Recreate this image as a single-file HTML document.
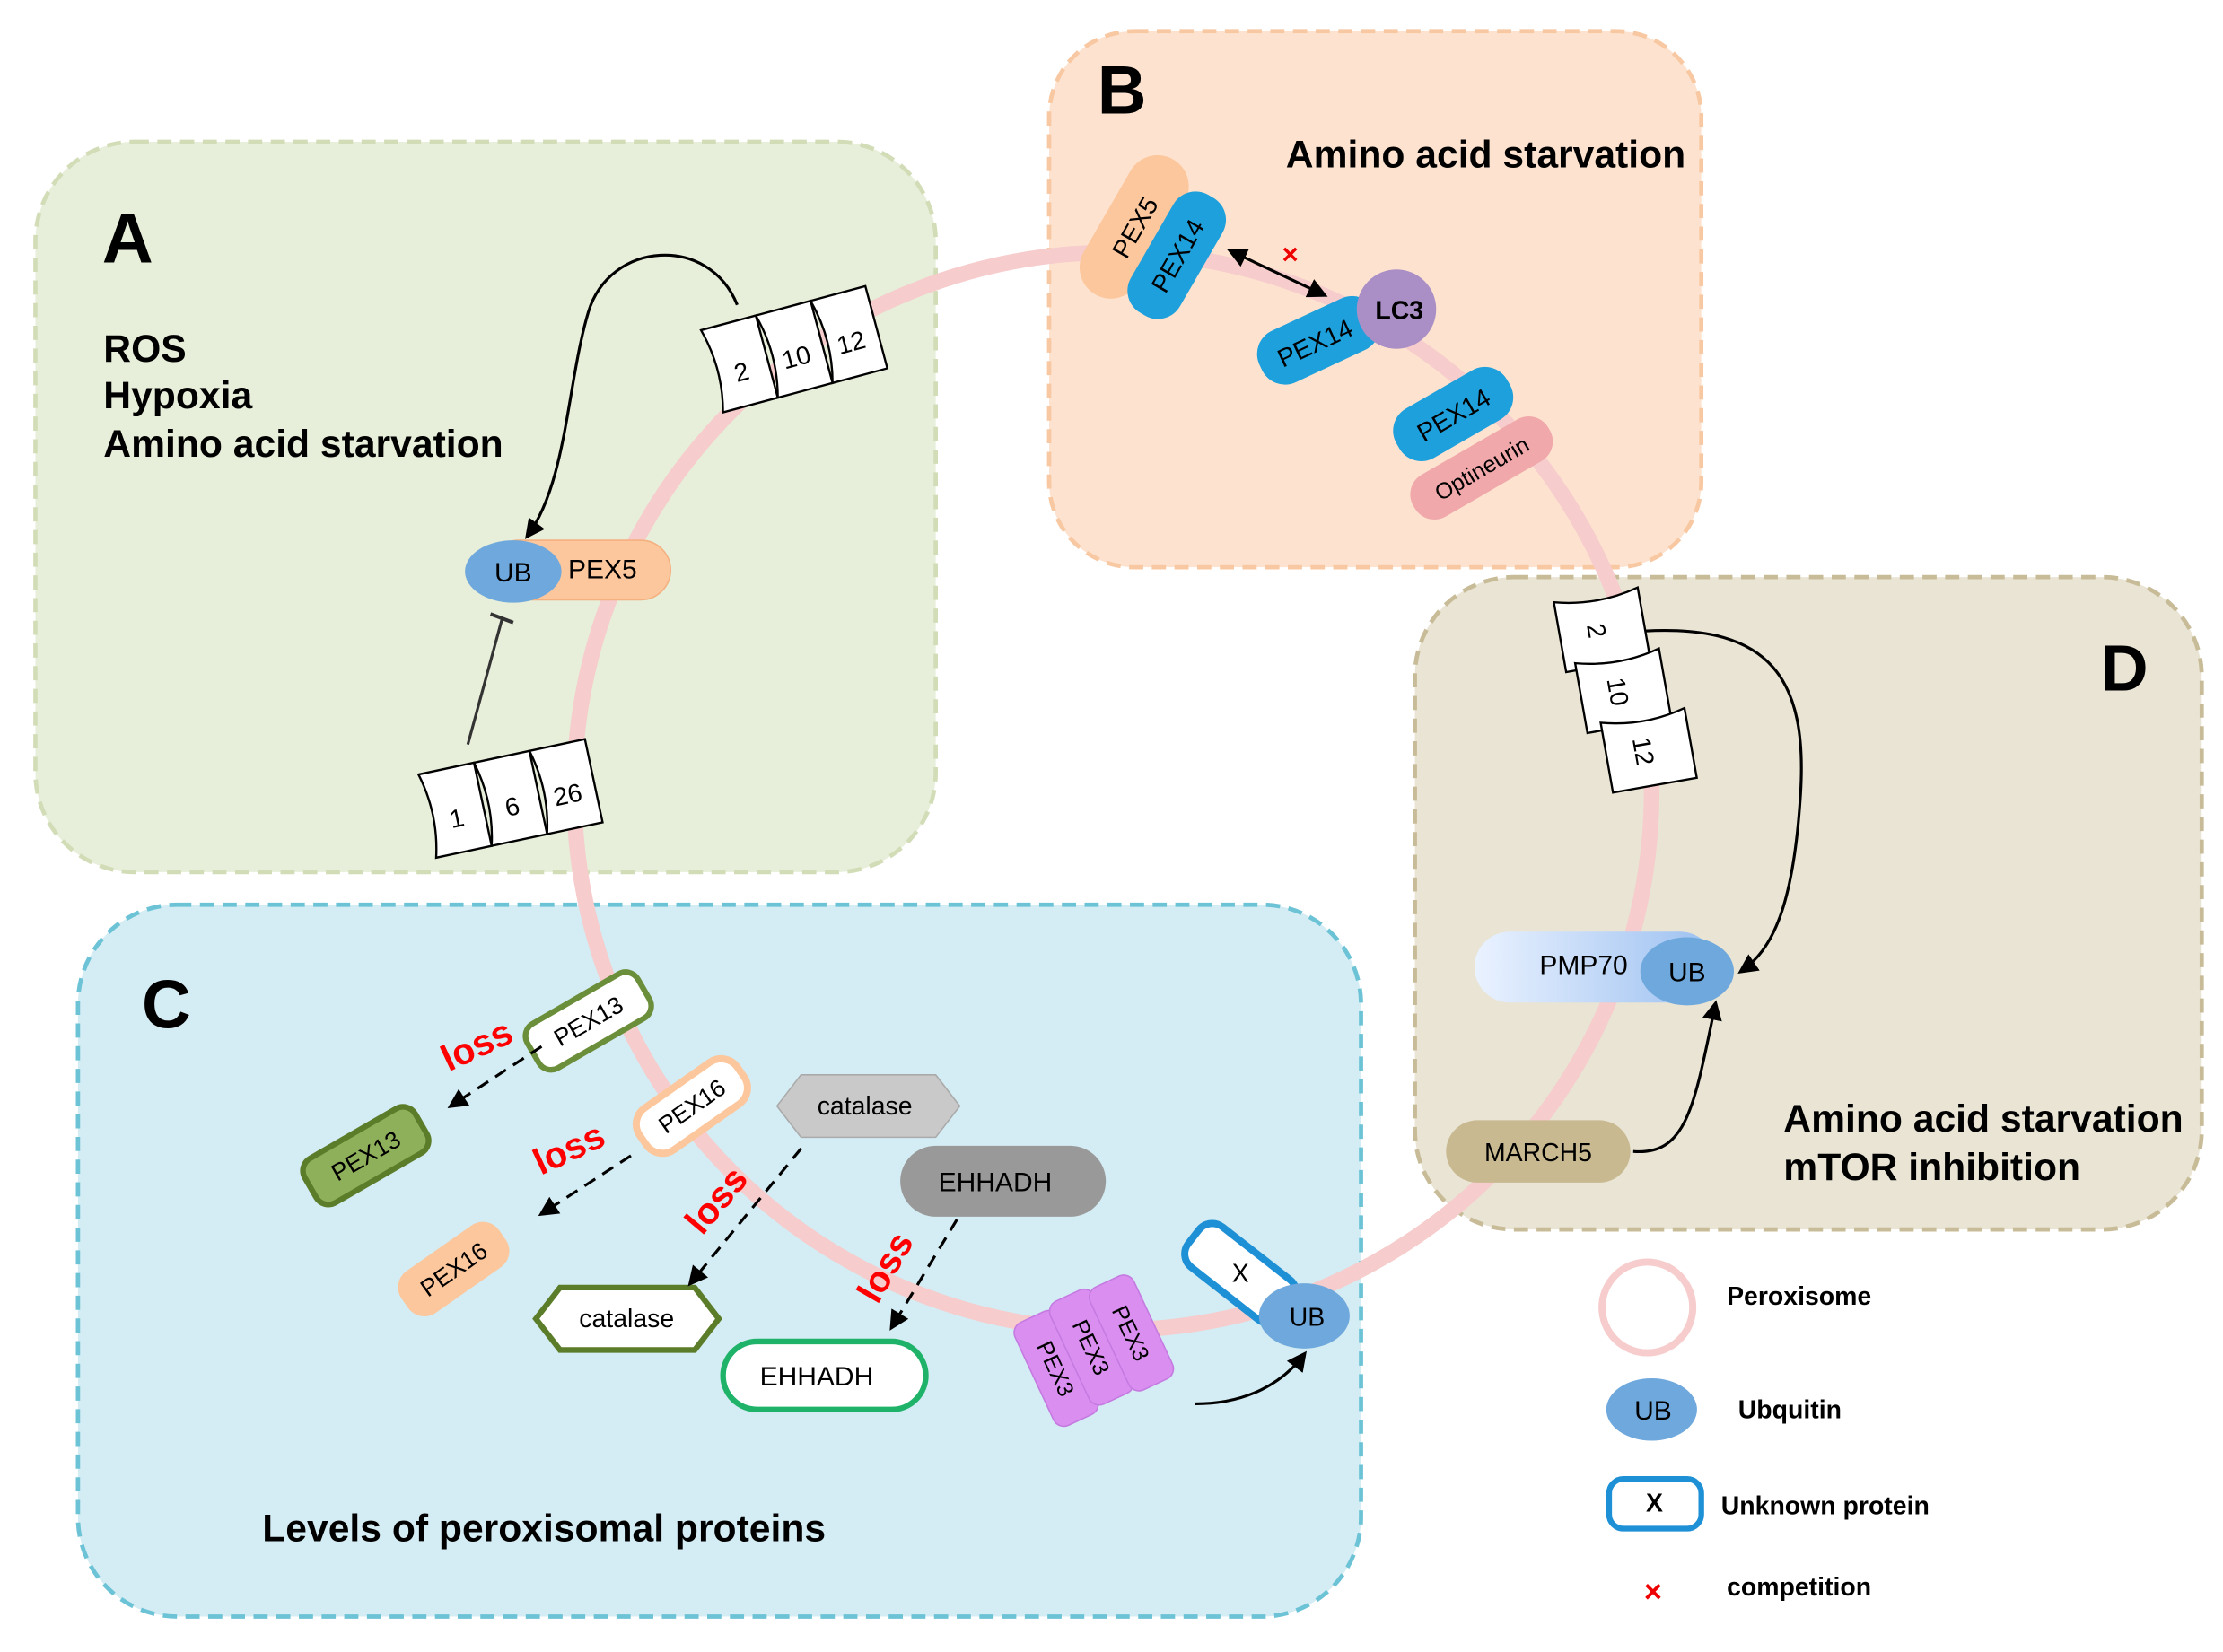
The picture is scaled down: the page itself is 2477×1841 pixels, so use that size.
<!DOCTYPE html>
<html><head><meta charset="utf-8"><style>html,body{margin:0;padding:0;background:#fff}svg{display:block}text{font-family:"Liberation Sans",Arial,sans-serif}</style></head>
<body>
<svg width="2477" height="1841" viewBox="0 0 1568 1165" preserveAspectRatio="none" xmlns="http://www.w3.org/2000/svg">
<defs>
<marker id="ah" viewBox="0 0 10 10" refX="8" refY="5" markerWidth="7" markerHeight="7" orient="auto-start-reverse"><path d="M0,0 L10,5 L0,10 z" fill="#000"/></marker>
<linearGradient id="pmp" x1="0" x2="1"><stop offset="0" stop-color="#eaf2ff"/><stop offset="1" stop-color="#9cc0f0"/></linearGradient>
</defs>
<rect width="1568" height="1165" fill="#fff"/>
<rect x="25" y="100" width="635" height="515" rx="70" fill="#e7eed9" stroke="#d2ddb8" stroke-width="3" stroke-dasharray="10,6"/>
<rect x="740" y="22" width="460" height="378" rx="60" fill="#fde3cf" stroke="#f8c8a2" stroke-width="3" stroke-dasharray="10,6"/>
<rect x="998" y="407" width="555" height="460" rx="70" fill="#e9e4d4" stroke="#c8bc98" stroke-width="3" stroke-dasharray="10,6"/>
<rect x="55" y="638" width="905" height="502" rx="70" fill="#d4ecf3" stroke="#6cc3d6" stroke-width="3" stroke-dasharray="10,6"/>
<circle cx="785" cy="558" r="380" fill="none" stroke="#f6cccc" stroke-width="11"/>
<g font-weight="bold" fill="#000">
<text x="72" y="185" font-size="50">A</text>
<text x="774" y="80" font-size="48">B</text>
<text x="100" y="725" font-size="48">C</text>
<text x="1482" y="487" font-size="46">D</text>
<text x="73" y="255" font-size="27">ROS</text>
<text x="73" y="288" font-size="27">Hypoxia</text>
<text x="73" y="322" font-size="27">Amino acid starvation</text>
<text x="907" y="118" font-size="27">Amino acid starvation</text>
<text x="185" y="1087" font-size="27">Levels of peroxisomal proteins</text>
<text x="1258" y="798" font-size="27">Amino acid starvation</text>
<text x="1258" y="832" font-size="27">mTOR inhibition</text>
</g>
<g transform="translate(565,245) rotate(-15)" stroke="#000" stroke-width="1.5" fill="#fff">
<path d="M-65,-30 h40 v60 h-40 q8,-30 0,-60z"/><path d="M-25,-30 h40 v60 h-40 q8,-30 0,-60z"/><path d="M15,-30 h40 v60 h-40 q8,-30 0,-60z"/>
<text x="-45" y="12" font-size="18" stroke="none" fill="#000" text-anchor="middle">2</text>
<text x="-5" y="12" font-size="18" stroke="none" fill="#000" text-anchor="middle">10</text>
<text x="35" y="12" font-size="18" stroke="none" fill="#000" text-anchor="middle">12</text>
</g>
<g transform="translate(365,562) rotate(-12)" stroke="#000" stroke-width="1.5" fill="#fff">
<path d="M-65,-30 h40 v60 h-40 q8,-30 0,-60z"/><path d="M-25,-30 h40 v60 h-40 q8,-30 0,-60z"/><path d="M15,-30 h40 v60 h-40 q8,-30 0,-60z"/>
<text x="-45" y="12" font-size="18" stroke="none" fill="#000" text-anchor="middle">1</text>
<text x="-5" y="12" font-size="18" stroke="none" fill="#000" text-anchor="middle">6</text>
<text x="35" y="12" font-size="18" stroke="none" fill="#000" text-anchor="middle">26</text>
</g>
<path d="M520,215 C500,165 430,170 415,220 C400,270 400,340 372,378" fill="none" stroke="#000" stroke-width="2" marker-end="url(#ah)"/>
<line x1="330" y1="525" x2="354" y2="437" stroke="#333" stroke-width="2"/>
<line x1="346" y1="433" x2="362" y2="439" stroke="#333" stroke-width="2.5"/>
<rect x="345" y="381" width="128" height="42" rx="21" fill="#fcc79d" stroke="#f5b080"/>
<text x="425" y="408" font-size="19" text-anchor="middle">PEX5</text>
<ellipse cx="362" cy="403" rx="34" ry="22" fill="#6fa8dc"/>
<text x="362" y="410" font-size="19" text-anchor="middle">UB</text>
<g transform="translate(800,160) rotate(-60)"><rect x="-55" y="-22" width="110" height="44" rx="22" fill="#fcc79d"/><text x="0" y="7" font-size="18" text-anchor="middle">PEX5</text></g>
<g transform="translate(830,180) rotate(-60)"><rect x="-48" y="-20" width="96" height="40" rx="18" fill="#1ea0dc"/><text x="0" y="7" font-size="18" text-anchor="middle">PEX14</text></g>
<line x1="868" y1="177" x2="934" y2="208" stroke="#000" stroke-width="2" marker-start="url(#ah)" marker-end="url(#ah)"/>
<text x="910" y="186" font-size="20" fill="#e00" text-anchor="middle" font-weight="bold">×</text>
<g transform="translate(930,240) rotate(-25)"><rect x="-45" y="-20" width="90" height="40" rx="18" fill="#1ea0dc"/><text x="-3" y="7" font-size="18" text-anchor="middle">PEX14</text></g>
<circle cx="985" cy="218" r="28" fill="#a98fc6"/><text x="987" y="225" font-size="18" font-weight="bold" text-anchor="middle">LC3</text>
<g transform="translate(1045,330) rotate(-30)"><rect x="-55" y="-17" width="110" height="34" rx="16" fill="#f0a8aa"/><text x="0" y="6" font-size="16" text-anchor="middle">Optineurin</text></g>
<g transform="translate(1025,292) rotate(-30)"><rect x="-45" y="-20" width="90" height="40" rx="18" fill="#1ea0dc"/><text x="0" y="7" font-size="18" text-anchor="middle">PEX14</text></g>
<g stroke="#000" stroke-width="1.5" fill="#fff">
<g transform="translate(1125,445) rotate(80)"><path d="M-25,-35 h50 v60 h-50 q8,-30 0,-60z"/><text x="0" y="5" font-size="18" stroke="none" fill="#000" text-anchor="middle">2</text></g>
<g transform="translate(1140,488) rotate(80)"><path d="M-25,-35 h50 v60 h-50 q8,-30 0,-60z"/><text x="0" y="5" font-size="18" stroke="none" fill="#000" text-anchor="middle">10</text></g>
<g transform="translate(1158,530) rotate(80)"><path d="M-25,-35 h50 v60 h-50 q8,-30 0,-60z"/><text x="0" y="5" font-size="18" stroke="none" fill="#000" text-anchor="middle">12</text></g>
</g>
<path d="M1160,445 C1250,440 1275,480 1270,560 C1265,640 1250,670 1228,685" fill="none" stroke="#000" stroke-width="2" marker-end="url(#ah)"/>
<rect x="1040" y="657" width="170" height="50" rx="25" fill="url(#pmp)"/>
<text x="1117" y="687" font-size="19" text-anchor="middle">PMP70</text>
<ellipse cx="1190" cy="685" rx="33" ry="24" fill="#6fa8dc"/><text x="1190" y="692" font-size="19" text-anchor="middle">UB</text>
<rect x="1020" y="790" width="130" height="44" rx="22" fill="#c8b990"/><text x="1085" y="819" font-size="18" text-anchor="middle">MARCH5</text>
<path d="M1152,812 C1190,815 1195,780 1210,708" fill="none" stroke="#000" stroke-width="2" marker-end="url(#ah)"/>
<g transform="translate(415,720) rotate(-30)"><rect x="-45" y="-18" width="90" height="36" rx="10" fill="#fff" stroke="#6b8e3a" stroke-width="4"/><text x="0" y="6" font-size="17" text-anchor="middle">PEX13</text></g>
<g transform="translate(258,815) rotate(-30)"><rect x="-45" y="-18" width="90" height="36" rx="10" fill="#8fb05a" stroke="#5b7d2a" stroke-width="4"/><text x="0" y="6" font-size="17" text-anchor="middle">PEX13</text></g>
<g transform="translate(488,780) rotate(-35)"><rect x="-42" y="-18" width="84" height="36" rx="14" fill="#fff" stroke="#fcc79d" stroke-width="5"/><text x="0" y="6" font-size="17" text-anchor="middle">PEX16</text></g>
<g transform="translate(320,895) rotate(-35)"><rect x="-42" y="-18" width="84" height="36" rx="14" fill="#fcc79d"/><text x="0" y="6" font-size="17" text-anchor="middle">PEX16</text></g>
<polygon points="548,780 565,758 660,758 677,780 660,802 565,802" fill="#c9c9c9" stroke="#aaa"/>
<text x="610" y="786" font-size="18" text-anchor="middle">catalase</text>
<polygon points="378,930 395,908 490,908 507,930 490,952 395,952" fill="#fff" stroke="#5b7d2a" stroke-width="4"/>
<text x="442" y="936" font-size="18" text-anchor="middle">catalase</text>
<rect x="635" y="808" width="145" height="50" rx="25" fill="#999"/><text x="702" y="840" font-size="19" text-anchor="middle">EHHADH</text>
<rect x="510" y="946" width="143" height="48" rx="24" fill="#fff" stroke="#1fb36a" stroke-width="4"/><text x="576" y="977" font-size="19" text-anchor="middle">EHHADH</text>
<g stroke="#000" stroke-width="2" stroke-dasharray="9,6" fill="none">
<line x1="382" y1="738" x2="318" y2="780" marker-end="url(#ah)"/>
<line x1="445" y1="815" x2="382" y2="856" marker-end="url(#ah)"/>
<line x1="565" y1="810" x2="487" y2="905" marker-end="url(#ah)"/>
<line x1="675" y1="860" x2="629" y2="936" marker-end="url(#ah)"/>
</g>
<g fill="#f00" font-weight="bold" font-size="26">
<text transform="translate(340,745) rotate(-25)" text-anchor="middle">loss</text>
<text transform="translate(405,818) rotate(-25)" text-anchor="middle">loss</text>
<text transform="translate(512,852) rotate(-50)" text-anchor="middle">loss</text>
<text transform="translate(632,898) rotate(-60)" text-anchor="middle">loss</text>
</g>
<g transform="translate(875,898) rotate(38)"><rect x="-42" y="-18" width="84" height="36" rx="12" fill="#fff" stroke="#1e90d6" stroke-width="5"/><text x="0" y="6" font-size="18" text-anchor="middle" transform="rotate(-38)">X</text></g>
<ellipse cx="920" cy="928" rx="32" ry="23" fill="#6fa8dc"/><text x="922" y="935" font-size="18" text-anchor="middle">UB</text>
<g fill="#d98ef0" stroke="#c47ae0">
<g transform="translate(745,965) rotate(65)"><rect x="-40" y="-17" width="80" height="34" rx="8"/><text x="0" y="6" font-size="16" fill="#000" stroke="none" text-anchor="middle">PEX3</text></g>
<g transform="translate(770,950) rotate(65)"><rect x="-40" y="-17" width="80" height="34" rx="8"/><text x="0" y="6" font-size="16" fill="#000" stroke="none" text-anchor="middle">PEX3</text></g>
<g transform="translate(798,940) rotate(65)"><rect x="-40" y="-17" width="80" height="34" rx="8"/><text x="0" y="6" font-size="16" fill="#000" stroke="none" text-anchor="middle">PEX3</text></g>
</g>
<path d="M843,990 C880,990 905,975 920,955" fill="none" stroke="#000" stroke-width="2" marker-end="url(#ah)"/>
<circle cx="1162" cy="922" r="32" fill="none" stroke="#f6cccc" stroke-width="5"/>
<text x="1218" y="920" font-size="18" font-weight="bold">Peroxisome</text>
<ellipse cx="1165" cy="994" rx="32" ry="22" fill="#6fa8dc"/><text x="1166" y="1001" font-size="19" text-anchor="middle">UB</text>
<text x="1226" y="1000" font-size="18" font-weight="bold">Ubquitin</text>
<rect x="1135" y="1043" width="65" height="35" rx="10" fill="#fff" stroke="#1e90d6" stroke-width="4"/>
<text x="1167" y="1066" font-size="18" font-weight="bold" text-anchor="middle">X</text>
<text x="1214" y="1068" font-size="18" font-weight="bold">Unknown protein</text>
<text x="1166" y="1130" font-size="22" fill="#e00" text-anchor="middle" font-weight="bold">×</text>
<text x="1218" y="1125" font-size="18" font-weight="bold">competition</text>
</svg>
</body></html>
